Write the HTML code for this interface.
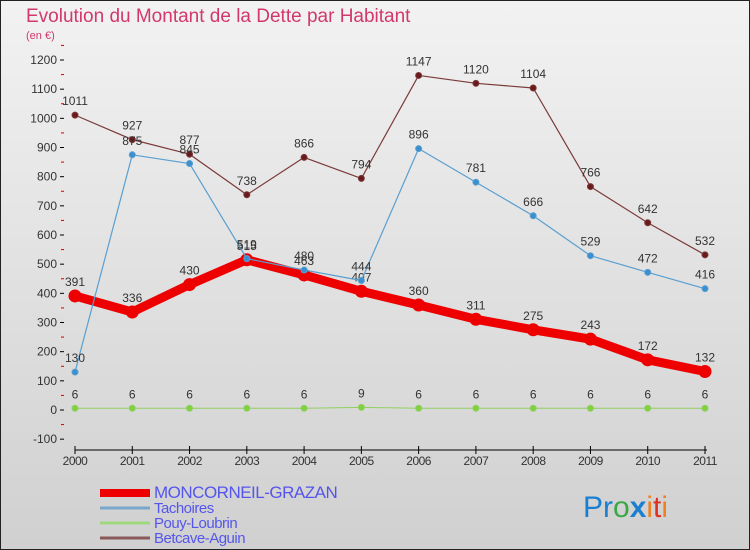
<!DOCTYPE html>
<html><head><meta charset="utf-8"><style>
body{margin:0;width:750px;height:550px;overflow:hidden;font-family:"Liberation Sans",sans-serif}
#c{position:absolute;left:0;top:0}
</style></head><body>
<svg id="c" width="750" height="550">
<defs><linearGradient id="bg" x1="0" y1="0" x2="0" y2="1"><stop offset="0" stop-color="#f2f2f2"/><stop offset="1" stop-color="#d0d0d0"/></linearGradient></defs>
<rect x="0.5" y="0.5" width="749" height="549" fill="url(#bg)" stroke="#222"/>
<text x="26" y="22" font-size="19" fill="#d2386a">Evolution du Montant de la Dette par Habitant</text>
<text x="26" y="39" font-size="11" fill="#d2386a">(en €)</text>
<g id="grid"></g><g id="axes"></g><g id="series"></g><g id="legend"></g>
<text x="583" y="517" font-size="30"><tspan fill="#1a7fd0">Pr</tspan><tspan fill="#39a845">o</tspan><tspan fill="#1a7fd0" font-weight="bold">x</tspan><tspan fill="#f08020">i</tspan><tspan fill="#e03020">t</tspan><tspan fill="#f08020">i</tspan></text>
</svg>
<script>
const years=['2000','2001','2002','2003','2004','2005','2006','2007','2008','2009','2010','2011'];
const yTicks=[-100,0,100,200,300,400,500,600,700,800,900,1000,1100,1200];
const moncorneil=[391,336,430,515,463,407,360,311,275,243,172,132];
const tachoires=[130,875,845,519,480,444,896,781,666,529,472,416];
const pouy=[6,6,6,6,6,9,6,6,6,6,6,6];
const betcave=[1011,927,877,738,866,794,1147,1120,1104,766,642,532];
const NS='http://www.w3.org/2000/svg';
const X=i=>75+i*(705-75)/11;
const Y=v=>410-v*350/1200;
function mk(p,t,a){const e=document.createElementNS(NS,t);for(const k in a)e.setAttribute(k,a[k]);document.getElementById(p).appendChild(e);return e;}
yTicks.forEach(v=>{
 const t=mk('axes','text',{x:57,y:Y(v)+4,'font-size':12,'text-anchor':'end',fill:'#333'});
 t.textContent=v;
 
 
 mk('axes','line',{x1:60,x2:64,y1:Y(v),y2:Y(v),stroke:'#000'});
 mk('axes','line',{x1:61,x2:64,y1:Y(v+50),y2:Y(v+50),stroke:'#c00'});
});
const xa=mk('axes','line',{x1:75,x2:707,y1:450,y2:450,stroke:'#000'});


years.forEach((y,i)=>{
 mk('axes','line',{x1:X(i),x2:X(i),y1:446,y2:454,stroke:'#000'});
 const t=mk('axes','text',{x:X(i),y:465,'font-size':12,'text-anchor':'middle',fill:'#333','letter-spacing':'-0.5'});
 t.textContent=y;
 
 
});
function series(name,vals,color,w,r,dot){
 const pts=vals.map((v,i)=>X(i)+','+Y(v)).join(' ');
 const pl=mk('series','polyline',{points:pts,fill:'none',stroke:color,'stroke-width':w,'stroke-linejoin':'round'});
 
 
 vals.forEach((v,i)=>{
  const c=mk('series','circle',{cx:X(i),cy:Y(v),r:r,fill:dot,stroke:color,'stroke-width':1});
  
  
  const t=mk('series','text',{x:X(i),y:Y(v)-10,'font-size':12,'text-anchor':'middle',fill:'#333'});
  t.textContent=v;
  
  
 });
}
series('pouy-loubrin',pouy,'#90d060',1,3,'#80d040');
series('betcave-aguin',betcave,'#7a3a3a',1.2,3,'#6a1a1a');
series('moncorneil-grazan',moncorneil,'#ee0000',9,6,'#ee0000');
series('tachoires',tachoires,'#5a9fd0',1.2,3,'#3a8fd0');
const leg=[['MONCORNEIL-GRAZAN','#ee0000',8,498],['Tachoires','#7aa8cc',3,513],['Pouy-Loubrin','#a0d880',3,528],['Betcave-Aguin','#8a5a5a',3,543]];
leg.forEach(l=>{
 const ln=mk('legend','line',{x1:100,x2:150,y1:l[3]-5,y2:l[3]-5,stroke:l[1],'stroke-width':l[2]});
 
 
 const t=mk('legend','text',{x:154,y:l[3],'font-size':l[2]==8?17:15,fill:'#5555ee','letter-spacing':'-0.5'});
 t.textContent=l[0];
 
 
});
</script>
</body></html>
